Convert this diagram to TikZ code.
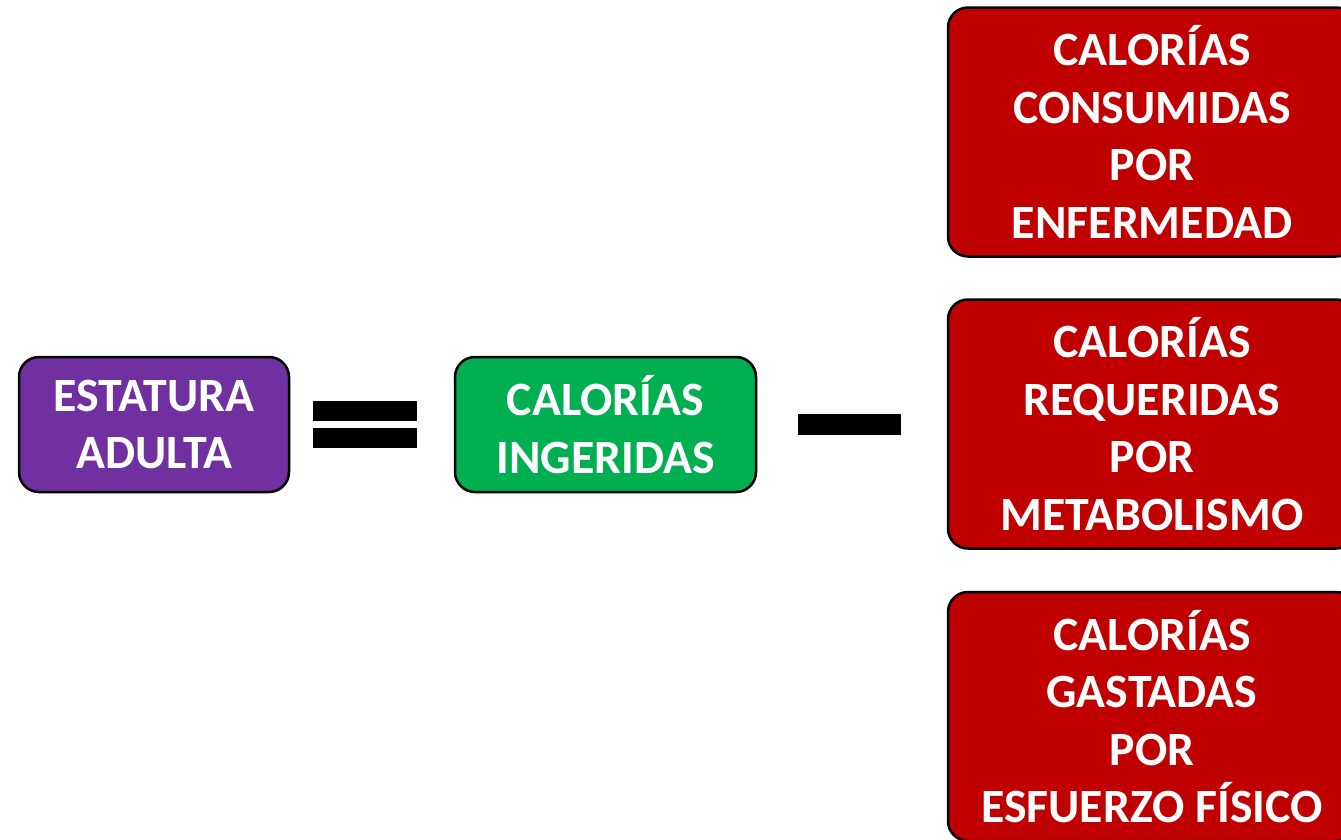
\documentclass[tikz,border=0pt]{standalone}
\usepackage{fontspec}
\setmainfont{Carlito}
\usetikzlibrary{positioning}
\definecolor{estaturaPurple}{HTML}{7030A0}
\definecolor{ingeridasGreen}{HTML}{00B050}
\definecolor{gastoRed}{HTML}{C00000}

\begin{document}
\begin{tikzpicture}[x=1pt,y=-1pt,
  box/.style={draw=black,line width=2.5pt,rounded corners=20pt,text=white,
    align=center,inner sep=0pt,
    font=\fontsize{47.8}{57.5}\selectfont\bfseries},
  bar/.style={fill=black,draw=none,inner sep=0pt,minimum width=104pt}]%
\useasboundingbox (0,0) rectangle (1341,839);
% left hand side
\node[box,fill=estaturaPurple,minimum width=270pt,minimum height=135pt]
  (Estatura) at (154,424.5) {ESTATURA\\ADULTA};
\node[bar,minimum height=20pt] (EqTop) at (365,411) {};
\node[bar,minimum height=20pt] (EqBottom) at (365,438) {};
% right hand side
\node[box,fill=ingeridasGreen,minimum width=301pt,minimum height=135pt]
  (Ingeridas) at (605.5,424.5) {CALOR\'IAS\\INGERIDAS};
\node[bar,minimum width=103pt,minimum height=21pt] (Minus) at (849.5,424.5) {};
\begin{scope}[every node/.style={box,fill=gastoRed,minimum width=408pt,minimum height=249pt}]
\node (Enfermedad) at (1152,132) {CALOR\'IAS\\CONSUMIDAS\\POR\\ENFERMEDAD};
\node (Metabolismo) at (1152,424) {CALOR\'IAS\\REQUERIDAS\\POR\\METABOLISMO};
\node (Esfuerzo) at (1152,716.5) {CALOR\'IAS\\GASTADAS\\POR\\ESFUERZO F\'ISICO};
\end{scope}
\end{tikzpicture}
\end{document}
